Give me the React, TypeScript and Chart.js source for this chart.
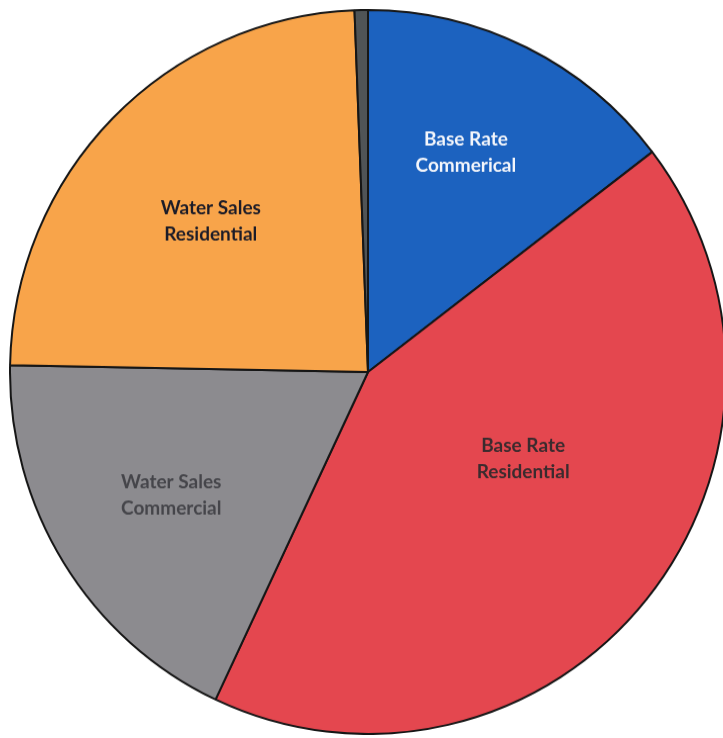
import React, { useEffect, useRef } from "react";
import { Chart, registerables } from "chart.js";

Chart.register(...registerables);

// Categories (clockwise from 12 o'clock)
const categories = [
  "Base Rate Commerical",
  "Base Rate Residential",
  "Water Sales Commercial",
  "Water Sales Residential",
  "Other",
];
// Shares in percent
const shares = [14.6, 42.4, 18.3, 24.1, 0.6];
// Text drawn inside each slice
const sliceLabels: string[][] = [
  ["Base Rate", "Commerical"],
  ["Base Rate", "Residential"],
  ["Water Sales", "Commercial"],
  ["Water Sales", "Residential"],
  [],
];

// Styles
const sliceColors = ["#1c62bf", "#e4474f", "#8c8b8f", "#f8a44a", "#505456"];
const labelColors = ["#f4f6fb", "#3a2b2e", "#45454a", "#1c1c28"];
const labelRadius = [0.665, 0.495, 0.647, 0.605];
const labelAngleShift = [-2, -10, 0, -1]; // degrees

const labelPlugin = {
  id: "sliceLabels",
  afterDatasetsDraw(chart: any) {
    const ctx = chart.ctx;
    const meta = chart.getDatasetMeta(0);
    ctx.save();
    ctx.font = "bold 19px Lato, 'Open Sans', sans-serif";
    ctx.textAlign = "center";
    ctx.textBaseline = "middle";
    meta.data.forEach((arc: any, i: number) => {
      const lines = sliceLabels[i];
      if (!lines || !lines.length) return;
      const p = arc.getProps(["x", "y", "startAngle", "endAngle", "outerRadius"], true);
      const a = (p.startAngle + p.endAngle) / 2 + (labelAngleShift[i] * Math.PI) / 180;
      const r = p.outerRadius * labelRadius[i];
      const cx = p.x + Math.cos(a) * r;
      const cy = p.y + Math.sin(a) * r;
      const lh = 26;
      ctx.fillStyle = labelColors[i];
      lines.forEach((t, k) => {
        ctx.fillText(t, cx, cy + (k - (lines.length - 1) / 2) * lh);
      });
    });
    ctx.restore();
  },
};

export default function App() {
  const ref = useRef<HTMLCanvasElement | null>(null);
  useEffect(() => {
    if (!ref.current) return;
    const chart = new Chart(ref.current, {
      type: "pie",
      data: {
        labels: categories,
        datasets: [
          {
            data: shares,
            backgroundColor: sliceColors,
            borderColor: "#161616",
            borderWidth: 2,
          },
        ],
      },
      options: {
        responsive: false,
        animation: false,
        layout: { padding: 0 },
        plugins: {
          legend: { display: false },
          tooltip: { enabled: false },
        },
      },
      plugins: [labelPlugin],
    });
    return () => chart.destroy();
  }, []);

  return (
    <div
      style={{
        position: "fixed",
        left: 0,
        top: 0,
        width: 723,
        height: 738,
        overflow: "hidden",
        background: "#ffffff",
      }}
    >
      <canvas
        ref={ref}
        width={718}
        height={718}
        style={{ position: "absolute", left: 9, top: 9, width: 718, height: 726 }}
      />
    </div>
  );
}
